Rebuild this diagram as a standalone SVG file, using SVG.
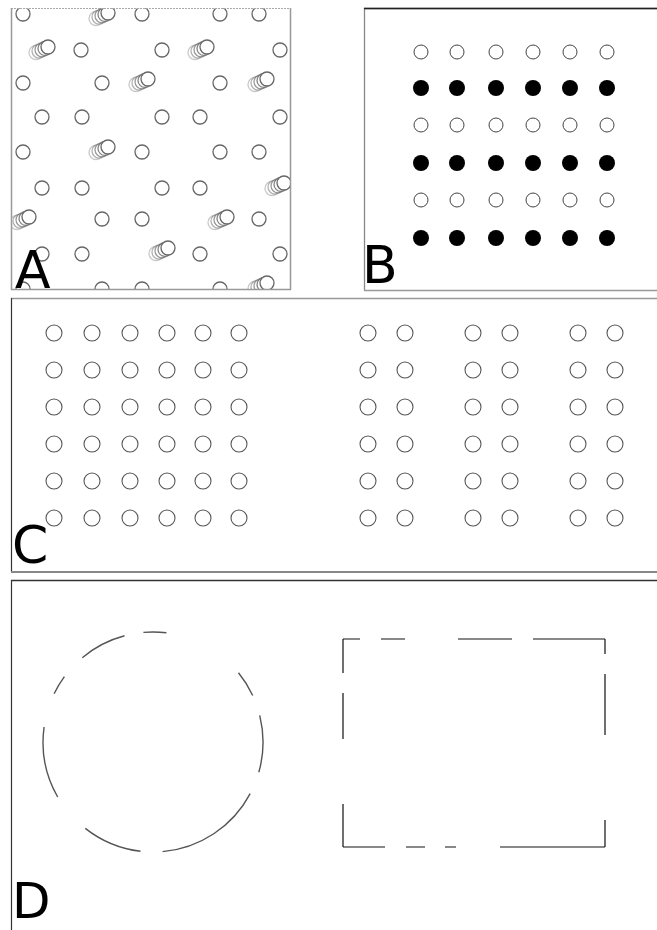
<svg xmlns="http://www.w3.org/2000/svg" xmlns:xlink="http://www.w3.org/1999/xlink" width="657" height="930" viewBox="0 0 657 930">
<style>
.lbl{font-family:"DejaVu Sans",sans-serif;font-size:52px;fill:#000}
.ca{fill:#fff;stroke:#666;stroke-width:1.3}
.co{fill:#fff;stroke:#444;stroke-width:1}
.cf{fill:#000;stroke:none}
.cc{fill:#fff;stroke:#555;stroke-width:1.1}
.fg{fill:none;stroke:#999;stroke-width:1.5}
.arc{fill:none;stroke:#555;stroke-width:1.4}
.hz{fill:none;stroke:#888;stroke-width:2}
.vt{fill:none;stroke:#111;stroke-width:1.2}
</style>
<defs>
<clipPath id="clipA"><rect x="11" y="8" width="280" height="281"/></clipPath>
<g id="smear">
<circle class="ca" cx="-12" cy="5.5" r="7" opacity="0.35"/>
<circle class="ca" cx="-9" cy="4.1" r="7" opacity="0.5"/>
<circle class="ca" cx="-6" cy="2.8" r="7" opacity="0.65"/>
<circle class="ca" cx="-3" cy="1.4" r="7" opacity="0.8"/>
<circle class="ca" cx="0" cy="0" r="7"/>
</g>
</defs>
<rect width="657" height="930" fill="#fff"/>

<g id="panelA">
<g clip-path="url(#clipA)">
<circle class="ca" cx="23" cy="14" r="7"/><circle class="ca" cx="142" cy="14" r="7"/><circle class="ca" cx="220" cy="14" r="7"/><circle class="ca" cx="259" cy="14" r="7"/>
<circle class="ca" cx="81" cy="50" r="7"/><circle class="ca" cx="162" cy="50" r="7"/><circle class="ca" cx="280" cy="50" r="7"/>
<circle class="ca" cx="23" cy="83" r="7"/><circle class="ca" cx="102" cy="83" r="7"/><circle class="ca" cx="220" cy="83" r="7"/>
<circle class="ca" cx="42" cy="117" r="7"/><circle class="ca" cx="82" cy="117" r="7"/><circle class="ca" cx="162" cy="117" r="7"/><circle class="ca" cx="200" cy="117" r="7"/><circle class="ca" cx="280" cy="117" r="7"/>
<circle class="ca" cx="23" cy="152" r="7"/><circle class="ca" cx="142" cy="152" r="7"/><circle class="ca" cx="220" cy="152" r="7"/><circle class="ca" cx="259" cy="152" r="7"/>
<circle class="ca" cx="42" cy="188" r="7"/><circle class="ca" cx="82" cy="188" r="7"/><circle class="ca" cx="162" cy="188" r="7"/><circle class="ca" cx="200" cy="188" r="7"/>
<circle class="ca" cx="102" cy="219" r="7"/><circle class="ca" cx="142" cy="219" r="7"/><circle class="ca" cx="259" cy="219" r="7"/>
<circle class="ca" cx="42" cy="254" r="7"/><circle class="ca" cx="82" cy="254" r="7"/><circle class="ca" cx="200" cy="254" r="7"/><circle class="ca" cx="280" cy="254" r="7"/>
<circle class="ca" cx="23" cy="289" r="7"/><circle class="ca" cx="102" cy="289" r="7"/><circle class="ca" cx="142" cy="289" r="7"/><circle class="ca" cx="220" cy="289" r="7"/>
<use xlink:href="#smear" x="108" y="13"/>
<use xlink:href="#smear" x="48" y="47"/>
<use xlink:href="#smear" x="207" y="47"/>
<use xlink:href="#smear" x="148" y="79"/>
<use xlink:href="#smear" x="267" y="79"/>
<use xlink:href="#smear" x="108" y="147"/>
<use xlink:href="#smear" x="284" y="183"/>
<use xlink:href="#smear" x="29" y="217"/>
<use xlink:href="#smear" x="227" y="217"/>
<use xlink:href="#smear" x="168" y="248"/>
<use xlink:href="#smear" x="267" y="283"/>
</g>
<line x1="11" y1="8.5" x2="291" y2="8.5" stroke="#aaa" stroke-width="1" stroke-dasharray="2,1"/>
<path class="fg" d="M11.5,8 V289.5 H290.5 V8"/>
<text class="lbl" x="15" y="288">A</text>
</g>

<g id="panelB">
<path d="M364.5,290 V8.5 H657" fill="none" stroke="#888" stroke-width="1.3"/>
<line x1="364" y1="8.5" x2="657" y2="8.5" stroke="#222" stroke-width="1.3"/>
<line x1="364" y1="290.5" x2="657" y2="290.5" stroke="#999" stroke-width="1.5"/>
<g>
<circle class="co" cx="421" cy="52" r="7"/><circle class="co" cx="457" cy="52" r="7"/><circle class="co" cx="496" cy="52" r="7"/><circle class="co" cx="533" cy="52" r="7"/><circle class="co" cx="570" cy="52" r="7"/><circle class="co" cx="607" cy="52" r="7"/>
<circle class="cf" cx="421" cy="88" r="8"/><circle class="cf" cx="457" cy="88" r="8"/><circle class="cf" cx="496" cy="88" r="8"/><circle class="cf" cx="533" cy="88" r="8"/><circle class="cf" cx="570" cy="88" r="8"/><circle class="cf" cx="607" cy="88" r="8"/>
<circle class="co" cx="421" cy="125" r="7"/><circle class="co" cx="457" cy="125" r="7"/><circle class="co" cx="496" cy="125" r="7"/><circle class="co" cx="533" cy="125" r="7"/><circle class="co" cx="570" cy="125" r="7"/><circle class="co" cx="607" cy="125" r="7"/>
<circle class="cf" cx="421" cy="163" r="8"/><circle class="cf" cx="457" cy="163" r="8"/><circle class="cf" cx="496" cy="163" r="8"/><circle class="cf" cx="533" cy="163" r="8"/><circle class="cf" cx="570" cy="163" r="8"/><circle class="cf" cx="607" cy="163" r="8"/>
<circle class="co" cx="421" cy="200" r="7"/><circle class="co" cx="457" cy="200" r="7"/><circle class="co" cx="496" cy="200" r="7"/><circle class="co" cx="533" cy="200" r="7"/><circle class="co" cx="570" cy="200" r="7"/><circle class="co" cx="607" cy="200" r="7"/>
<circle class="cf" cx="421" cy="238" r="8"/><circle class="cf" cx="457" cy="238" r="8"/><circle class="cf" cx="496" cy="238" r="8"/><circle class="cf" cx="533" cy="238" r="8"/><circle class="cf" cx="570" cy="238" r="8"/><circle class="cf" cx="607" cy="238" r="8"/>
</g>
<text class="lbl" x="362" y="283">B</text>
</g>

<g id="panelC">
<line x1="11" y1="298.5" x2="657" y2="298.5" stroke="#999" stroke-width="1.5"/>
<line x1="11.5" y1="298" x2="11.5" y2="572" stroke="#333" stroke-width="1.2"/>
<line x1="11" y1="572" x2="657" y2="572" stroke="#888" stroke-width="2"/>
<g id="cgrid">
<g id="crow">
<circle class="cc" cx="54" cy="333" r="8"/><circle class="cc" cx="92" cy="333" r="8"/><circle class="cc" cx="130" cy="333" r="8"/><circle class="cc" cx="167" cy="333" r="8"/><circle class="cc" cx="203" cy="333" r="8"/><circle class="cc" cx="239" cy="333" r="8"/>
<circle class="cc" cx="368" cy="333" r="8"/><circle class="cc" cx="405" cy="333" r="8"/><circle class="cc" cx="473" cy="333" r="8"/><circle class="cc" cx="510" cy="333" r="8"/><circle class="cc" cx="578" cy="333" r="8"/><circle class="cc" cx="615" cy="333" r="8"/>
</g>
<use xlink:href="#crow" y="37"/>
<use xlink:href="#crow" y="74"/>
<use xlink:href="#crow" y="111"/>
<use xlink:href="#crow" y="148"/>
<use xlink:href="#crow" y="185"/>
</g>
<text class="lbl" x="12" y="563">C</text>
</g>

<g id="panelD">
<line x1="11" y1="580.5" x2="657" y2="580.5" stroke="#333" stroke-width="1.3"/>
<line x1="11.5" y1="580" x2="11.5" y2="930" stroke="#333" stroke-width="1.2"/>
<g id="dcircle">
<path class="arc" d="M250.2,793.6 A110,110 0 0 1 162.6,851.6"/>
<path class="arc" d="M140.5,851.3 A110,110 0 0 1 85.3,828.4"/>
<path class="arc" d="M57.7,797 A110,110 0 0 1 44.1,727"/>
<path class="arc" d="M54.1,693.8 A110,110 0 0 1 64.4,676.7"/>
<path class="arc" d="M82.3,657.7 A110,110 0 0 1 124.5,635.8"/>
<path class="arc" d="M143.4,632.4 A110,110 0 0 1 166.4,632.8"/>
<path class="arc" d="M238.5,672.8 A110,110 0 0 1 252.7,695.5"/>
<path class="arc" d="M259.7,715.4 A110,110 0 0 1 258.8,772.3"/>
</g>
<g id="drect">
<path class="hz" d="M343,639 H360 M381,639 H405 M458,639 H512 M533,639 H605"/>
<path class="hz" d="M343,847 H385 M406,847 H425 M445,847 H456 M500,847 H605"/>
<path class="vt" d="M343,639 V673 M343,693 V739 M343,804 V847"/>
<path class="vt" d="M605,639 V654 M605,674 V735 M605,820 V847"/>
</g>
<text class="lbl" x="12" y="918" style="font-size:50px">D</text>
</g>
</svg>
